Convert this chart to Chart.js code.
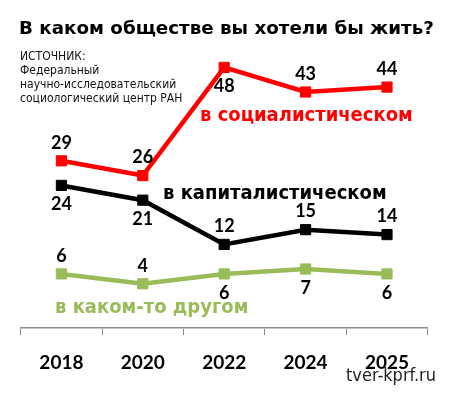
<!DOCTYPE html>
<html><head><meta charset="utf-8">
<script src="https://cdn.jsdelivr.net/npm/chart.js@4/dist/chart.umd.min.js"></script>
<style>html,body{margin:0;padding:0;background:#fff;}#wrap{width:450px;height:394px;position:relative;}</style>
</head><body><div id="wrap"><canvas id="c" width="450" height="394"></canvas></div>
<script>
// ---- data ----
const categories = ['2018', '2020', '2022', '2024', '2025'];
const socialist  = [29, 26, 48, 43, 44];
const capitalist = [24, 21, 12, 15, 14];
const other      = [6, 4, 6, 7, 6];
// value-label placement relative to each point
const socialistLabelSide  = ['above', 'above', 'below', 'above', 'above'];
const capitalistLabelSide = ['below', 'below', 'above', 'above', 'above'];
const otherLabelSide      = ['above', 'above', 'below', 'below', 'below'];
const seriesNames = ['в социалистическом', 'в капиталистическом', 'в каком-то другом'];
const titleText = 'В каком обществе вы хотели бы жить?';
const sourceLines = ['ИСТОЧНИК:', 'Федеральный', 'научно-исследовательский', 'социологический центр РАН'];
const watermark = 'tver-kprf.ru';

const RED = '#ff0000', BLACK = '#000000', GREEN = '#9bbb59';
const sides = [socialistLabelSide, capitalistLabelSide, otherLabelSide];

const labelsPlugin = {
  id: 'labels',
  afterDatasetsDraw(chart) {
    const ctx = chart.ctx;
    ctx.save();
    ctx.font = 'bold 18px Lato';
    ctx.fillStyle = '#000';
    ctx.textAlign = 'center';
    ctx.textBaseline = 'middle';
    chart.data.datasets.forEach((ds, i) => {
      const meta = chart.getDatasetMeta(i);
      meta.data.forEach((pt, j) => {
        const off = sides[i][j] === 'above' ? -18 : 19;
        ctx.fillText(String(ds.data[j]), pt.x, pt.y + off);
      });
    });
    ctx.restore();
  },
  afterDraw(chart) {
    const ctx = chart.ctx;
    ctx.save();
    ctx.textAlign = 'left';
    ctx.textBaseline = 'alphabetic';
    // title
    ctx.fillStyle = '#000';
    ctx.font = 'bold 18.3px "DejaVu Sans"';
    ctx.fillText(titleText, 19, 34);
    // source
    ctx.fillStyle = '#111';
    ctx.font = '12px "DejaVu Sans Condensed"';
    const base = [59.5, 73.5, 87.5, 101.5];
    sourceLines.forEach((t, k) => ctx.fillText(t, 20, base[k]));
    // series names
    ctx.font = 'bold 20px "DejaVu Sans Condensed"';
    ctx.fillStyle = RED;   ctx.fillText(seriesNames[0], 200, 121);
    ctx.fillStyle = BLACK; ctx.fillText(seriesNames[1], 163, 199);
    ctx.fillStyle = GREEN; ctx.fillText(seriesNames[2], 55, 313);
    // watermark
    ctx.fillStyle = '#222';
    ctx.font = '18px "DejaVu Sans Condensed"';
    ctx.fillText(watermark, 346, 381);
    ctx.restore();
  }
};

function ds(data, color) {
  return {
    data, borderColor: color, backgroundColor: color,
    pointBackgroundColor: color, pointBorderColor: color,
    borderWidth: 4.5, pointStyle: 'rect', pointRadius: 7.2, pointBorderWidth: 1,
    tension: 0, clip: false
  };
}

new Chart(document.getElementById('c'), {
  type: 'line',
  data: {
    labels: categories,
    datasets: [ds(socialist, RED), ds(capitalist, BLACK), ds(other, GREEN)]
  },
  options: {
    responsive: false,
    devicePixelRatio: 1,
    animation: false,
    layout: { padding: { left: 20.7, right: 22.3, top: 33, bottom: 0 } },
    plugins: { legend: { display: false }, tooltip: { enabled: false } },
    scales: {
      x: {
        offset: true,
        grid: { display: true, offset: true, drawOnChartArea: false, drawTicks: true, tickLength: 7, color: '#8c8c8c' },
        border: { display: true, color: '#8c8c8c', width: 1.5 },
        ticks: { color: '#000', font: { family: 'Lato', weight: 'bold', size: 19 }, padding: 16 },
        afterFit(scale) { scale.height = 66; }
      },
      y: { display: false, min: -5, max: 55 }
    }
  },
  plugins: [labelsPlugin]
});
</script>
</body></html>
